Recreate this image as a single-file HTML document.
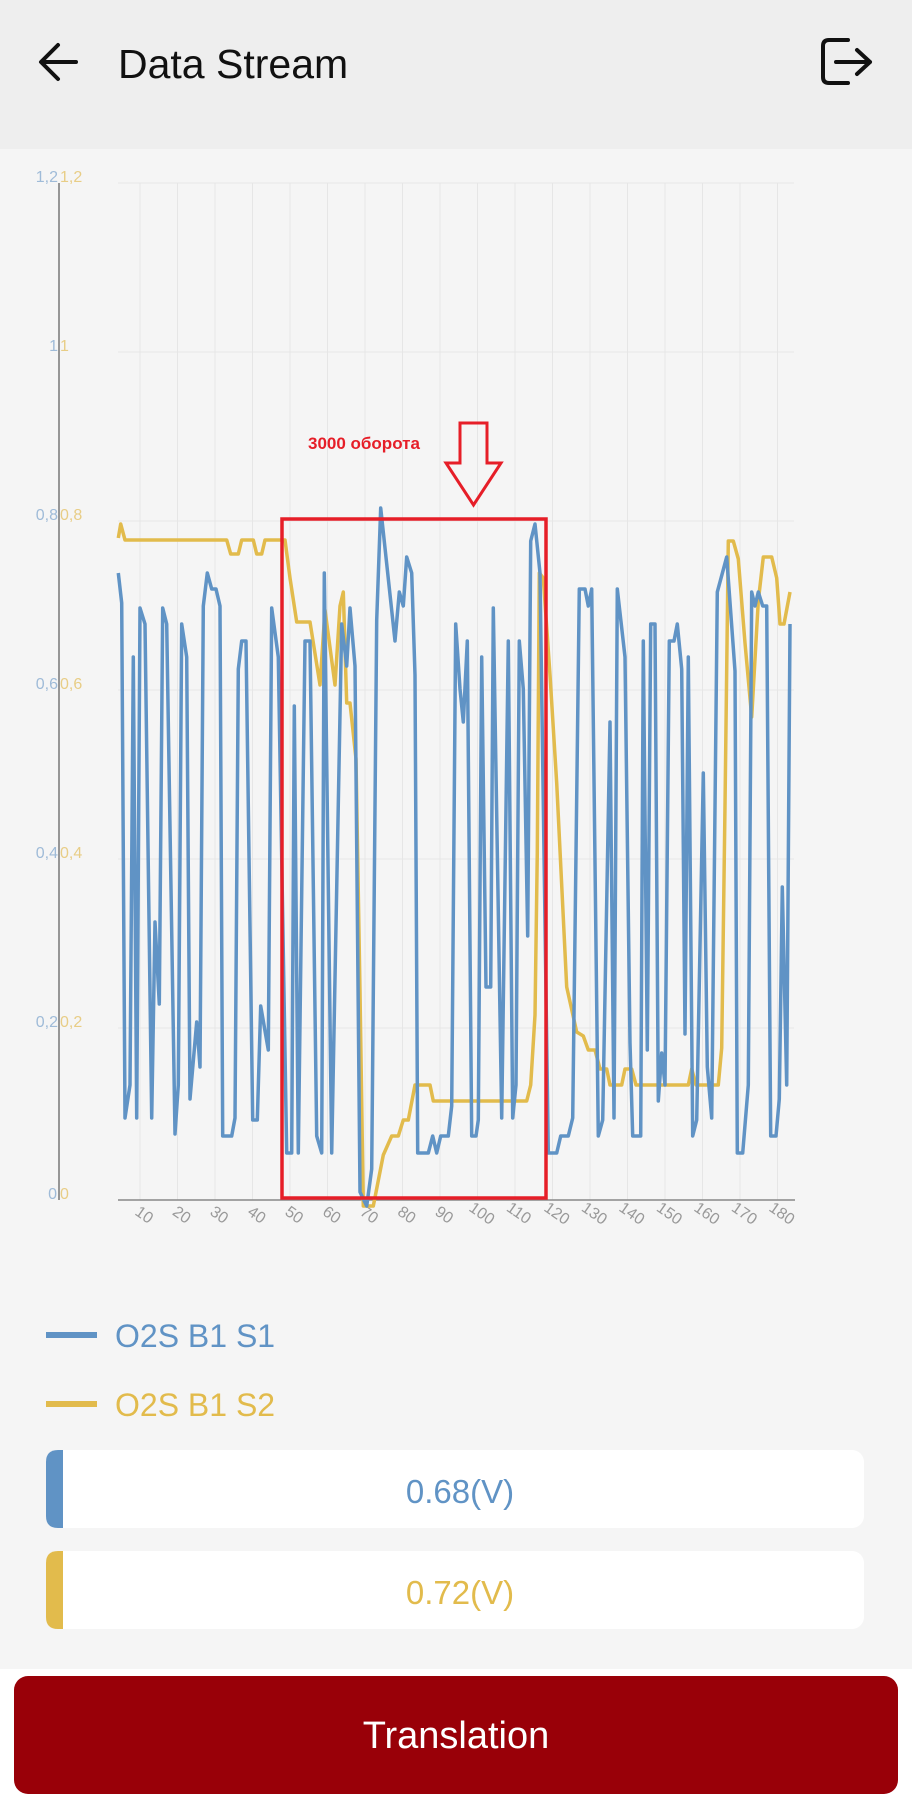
<!DOCTYPE html>
<html><head><meta charset="utf-8"><style>
html,body{margin:0;padding:0;width:912px;height:1800px;overflow:hidden;background:#f5f5f5;font-family:"Liberation Sans",sans-serif}
svg{position:absolute;left:0;top:0}
</style></head><body>
<svg width="912" height="1800" viewBox="0 0 912 1800" xmlns="http://www.w3.org/2000/svg">
<rect x="0" y="0" width="912" height="149" fill="#eeeeee"/>
<rect x="0" y="149" width="912" height="1520" fill="#f5f5f5"/>
<rect x="0" y="1669" width="912" height="131" fill="#ffffff"/>
<!-- header -->
<path d="M76 62 H42 M58 45 L41 62 L58 79" stroke="#111" stroke-width="4" fill="none" stroke-linecap="round" stroke-linejoin="round"/>
<text x="118" y="78" font-size="41" fill="#111">Data Stream</text>
<path d="M848 40 H829 Q823 40 823 46 V77 Q823 83 829 83 H848" stroke="#111" stroke-width="4" fill="none" stroke-linecap="round"/>
<path d="M836 62 H870 M857 50 L870 62 L857 74" stroke="#111" stroke-width="4" fill="none" stroke-linecap="round" stroke-linejoin="round"/>
<!-- grid -->
<g stroke="#e6e6e6" stroke-width="1">
<line x1="118" y1="183" x2="794" y2="183"/><line x1="118" y1="352" x2="794" y2="352"/><line x1="118" y1="521" x2="794" y2="521"/><line x1="118" y1="690" x2="794" y2="690"/><line x1="118" y1="859" x2="794" y2="859"/><line x1="118" y1="1028" x2="794" y2="1028"/>
<line x1="140" y1="183" x2="140" y2="1200"/><line x1="177.5" y1="183" x2="177.5" y2="1200"/><line x1="215" y1="183" x2="215" y2="1200"/><line x1="252.5" y1="183" x2="252.5" y2="1200"/><line x1="290" y1="183" x2="290" y2="1200"/><line x1="327.5" y1="183" x2="327.5" y2="1200"/><line x1="365" y1="183" x2="365" y2="1200"/><line x1="402.5" y1="183" x2="402.5" y2="1200"/><line x1="440" y1="183" x2="440" y2="1200"/><line x1="477.5" y1="183" x2="477.5" y2="1200"/><line x1="515" y1="183" x2="515" y2="1200"/><line x1="552.5" y1="183" x2="552.5" y2="1200"/><line x1="590" y1="183" x2="590" y2="1200"/><line x1="627.5" y1="183" x2="627.5" y2="1200"/><line x1="665" y1="183" x2="665" y2="1200"/><line x1="702.5" y1="183" x2="702.5" y2="1200"/><line x1="740" y1="183" x2="740" y2="1200"/><line x1="777.5" y1="183" x2="777.5" y2="1200"/>
</g>
<line x1="59" y1="183" x2="59" y2="1200" stroke="#777" stroke-width="1.5"/>
<line x1="118" y1="1200" x2="795" y2="1200" stroke="#888" stroke-width="1.5"/>
<!-- y labels -->
<g font-size="16" text-anchor="end">
<text x="58" y="182" fill="#9fbbd8">1,2</text><text x="58" y="351" fill="#9fbbd8">1</text><text x="58" y="520" fill="#9fbbd8">0,8</text><text x="58" y="689" fill="#9fbbd8">0,6</text><text x="58" y="858" fill="#9fbbd8">0,4</text><text x="58" y="1027" fill="#9fbbd8">0,2</text><text x="57" y="1199" fill="#9fbbd8">0</text>
</g>
<g font-size="16" text-anchor="start" fill="#e8cd86">
<text x="60" y="182">1,2</text><text x="60" y="351">1</text><text x="60" y="520">0,8</text><text x="60" y="689">0,6</text><text x="60" y="858">0,4</text><text x="60" y="1027">0,2</text><text x="60" y="1199">0</text>
</g>
<!-- x labels -->
<g font-size="16" fill="#999">
<text transform="translate(134,1214) rotate(35)">10</text><text transform="translate(171.5,1214) rotate(35)">20</text><text transform="translate(209,1214) rotate(35)">30</text><text transform="translate(246.5,1214) rotate(35)">40</text><text transform="translate(284,1214) rotate(35)">50</text><text transform="translate(321.5,1214) rotate(35)">60</text><text transform="translate(359,1214) rotate(35)">70</text><text transform="translate(396.5,1214) rotate(35)">80</text><text transform="translate(434,1214) rotate(35)">90</text><text transform="translate(468,1210) rotate(35)">100</text><text transform="translate(505.5,1210) rotate(35)">110</text><text transform="translate(543,1210) rotate(35)">120</text><text transform="translate(580.5,1210) rotate(35)">130</text><text transform="translate(618,1210) rotate(35)">140</text><text transform="translate(655.5,1210) rotate(35)">150</text><text transform="translate(693,1210) rotate(35)">160</text><text transform="translate(730.5,1210) rotate(35)">170</text><text transform="translate(768,1210) rotate(35)">180</text>
</g>
<!-- yellow series -->
<polyline fill="none" stroke="#e2bb4c" stroke-width="3.5" stroke-linejoin="round" points="118.3,538 120.7,524 125,540 226.7,540 230.7,554 238.3,554 241.7,540 253.3,540 256.7,554 261.7,554 265,540 285,540 290,578 296.7,622 310,622 320,685 325,610 335,685 340,606 343.3,592 346.7,703 350,703 356,759 360,992 363.3,1206 373.3,1206 383.3,1155 391.7,1136 398.3,1136 403.3,1120 408.3,1120 415,1085 430,1085 433.3,1101 526.7,1101 530.7,1085 535,1015 537.3,852 539.3,573 543.3,578 550,675 556.7,783 566.7,987 576.7,1032 583.3,1036 588.3,1050 595,1050 600,1069 606.7,1069 610,1085 621.7,1085 625,1069 631.7,1069 636,1085 688.3,1085 691.7,1069 696,1085 718.3,1085 721.7,1048 725,806 728.3,541 733.3,541 738.3,559 745,643 751.7,717 758.3,601 763.3,557 771.7,557 776.7,578 780,624 784,624 790,592"/>
<!-- blue series -->
<polyline fill="none" stroke="#6093c5" stroke-width="3.5" stroke-linejoin="round" points="118.3,573 121.7,603 125,1118 130,1085 133.3,657 136.7,1118 140,608 145,624 151.7,1118 155,922 159.3,1004 162.7,608 166.7,624 175,1134 178.3,1085 181.7,624 186.7,657 190,1099 196.7,1022 200,1067 203.3,606 207.3,573 211.7,589 216,589 220,606 222.7,1136 231.7,1136 235,1118 238.3,669 241.7,641 246,641 252.7,1120 257.3,1120 260.7,1006 268.3,1050 271.7,608 278.3,657 286.7,1153 291.7,1153 294.3,706 298.3,1153 305,641 310,641 316.7,1136 321.7,1153 324.3,573 331.7,1153 341.7,624 346.7,666 350,608 355,666 360,1192 366.7,1206 371.7,1169 376.7,620 380.7,508 395,641 399.3,592 403.3,606 406.7,557 411.7,573 415,675 417.7,1153 428.3,1153 432.7,1136 436.7,1153 440.7,1136 448.3,1136 451.7,1106 455.7,624 460,689 463.3,722 467.3,641 471.7,1136 476,1136 478.3,1120 481.7,657 486,987 490.7,987 493.3,608 501.7,1118 508.3,641 512.7,1118 516,1085 519.3,641 523.3,689 527.7,936 530.7,541 535,524 540,573 548.3,1153 556.7,1153 560.7,1136 568.3,1136 572.7,1118 579.3,589 585,589 588.3,606 591.7,589 598.3,1136 602.7,1120 610,722 614,1118 617.3,589 625,657 630,1043 632.7,1136 640.7,1136 643.3,641 647.3,1050 650.7,624 655,624 658.3,1101 661.7,1053 665,1085 669.3,641 674,641 677.3,624 681.7,669 685,1034 688.3,657 692.7,1136 696.7,1120 703.3,773 707.3,1067 711.7,1118 717.3,592 726.7,557 735,671 737.3,1153 742.7,1153 748.3,1085 751.7,592 755,606 758.3,592 762.7,606 766.7,606 770.7,1136 776,1136 779.3,1099 782.3,887 786.7,1085 790,624"/>
<!-- annotation -->
<rect x="282" y="519" width="264" height="679" fill="none" stroke="#e61e28" stroke-width="3.5"/>
<text x="308" y="449" font-size="17" font-weight="bold" fill="#e61e28">3000 оборота</text>
<path d="M460 423 H487 V463 H501 L473.5 505 L446 463 H460 Z" fill="none" stroke="#e61e28" stroke-width="3"/>
<!-- legend -->
<line x1="46" y1="1335" x2="97" y2="1335" stroke="#6093c5" stroke-width="6"/>
<text x="115" y="1347" font-size="32" fill="#6093c5">O2S B1 S1</text>
<line x1="46" y1="1404" x2="97" y2="1404" stroke="#e2bb4c" stroke-width="6"/>
<text x="115" y="1416" font-size="32" fill="#e2bb4c">O2S B1 S2</text>
<!-- cards -->
<rect x="46" y="1450" width="818" height="78" rx="12" fill="#ffffff"/>
<path d="M58 1450 H63 V1528 H58 Q46 1528 46 1516 V1462 Q46 1450 58 1450 Z" fill="#6093c5"/>
<text x="460" y="1503" font-size="33" fill="#6093c5" text-anchor="middle">0.68(V)</text>
<rect x="46" y="1551" width="818" height="78" rx="12" fill="#ffffff"/>
<path d="M58 1551 H63 V1629 H58 Q46 1629 46 1617 V1563 Q46 1551 58 1551 Z" fill="#e2bb4c"/>
<text x="460" y="1604" font-size="33" fill="#e2bb4c" text-anchor="middle">0.72(V)</text>
<!-- button -->
<rect x="14" y="1676" width="884" height="118" rx="14" fill="#990008"/>
<text x="456" y="1748" font-size="38" fill="#ffffff" text-anchor="middle">Translation</text>
</svg>
</body></html>
